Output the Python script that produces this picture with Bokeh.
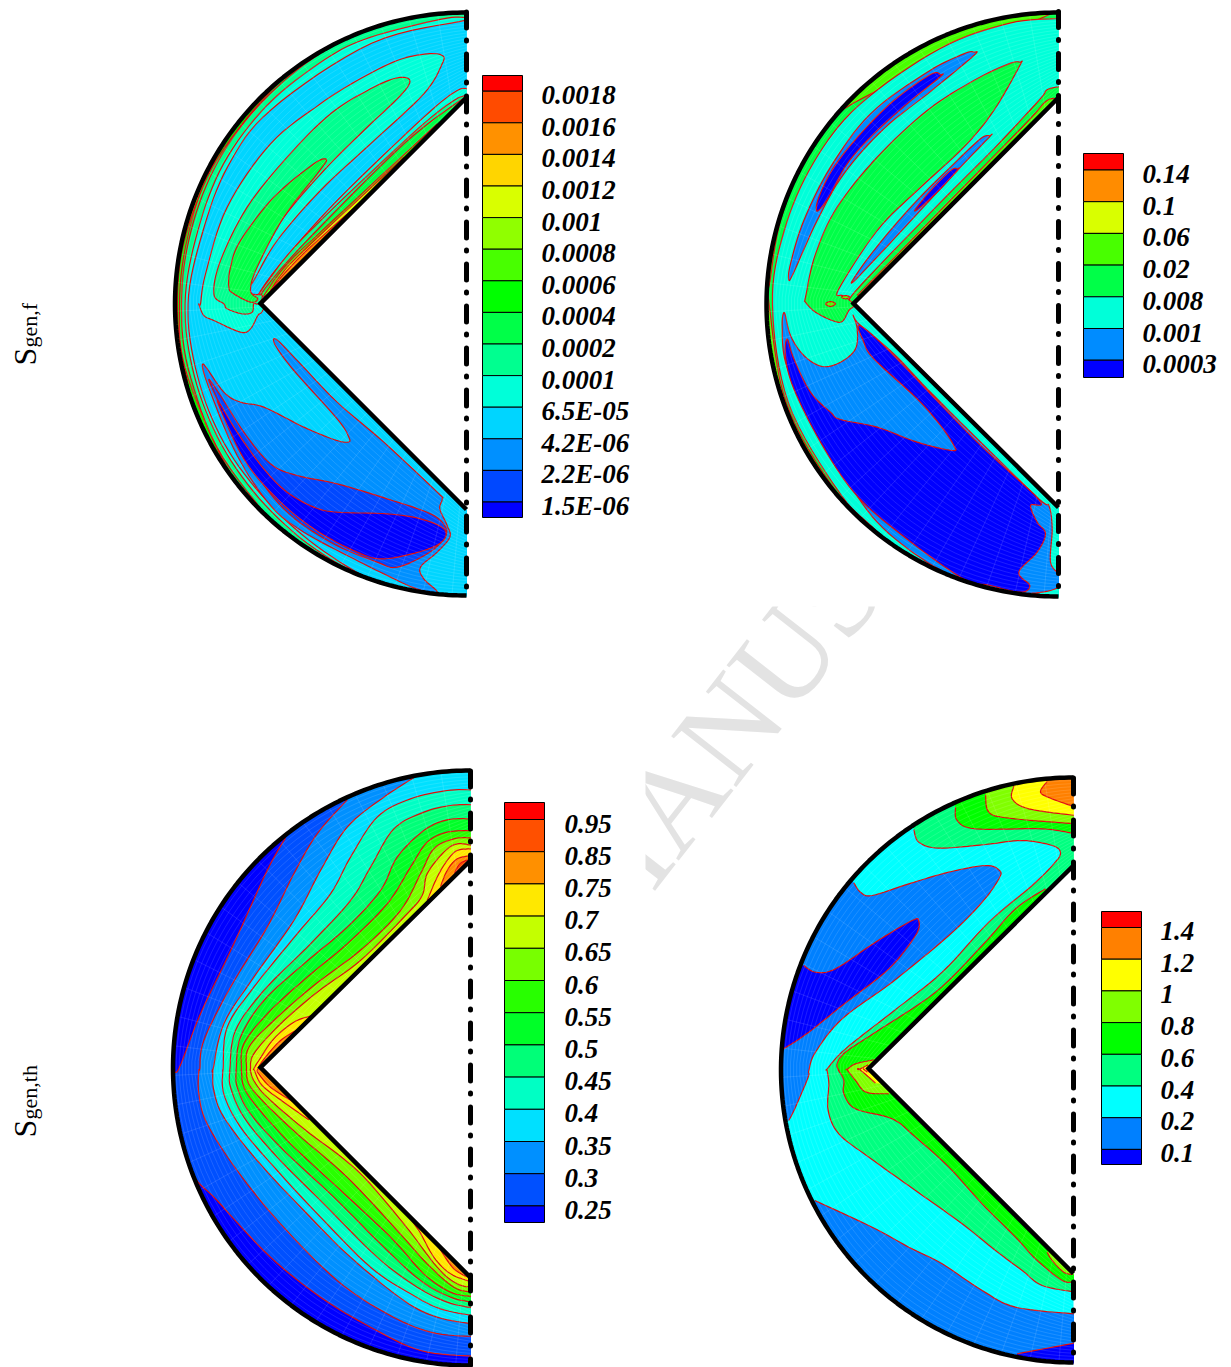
import numpy as np
from bokeh.plotting import figure
from bokeh.models import Range1d
from bokeh.core.properties import value
from bokeh.embed import file_html
from bokeh.resources import INLINE

# ---------- colour-bar data ----------
LEVELS_F = ["0.0018","0.0016","0.0014","0.0012","0.001","0.0008","0.0006","0.0004","0.0002","0.0001","6.5E-05","4.2E-06","2.2E-06","1.5E-06"]
COLORS_F = ["#ff0000","#ff4b00","#ff9100","#ffd500","#d9ff00","#90ff00","#48ff00","#00ff00","#00ff48","#00ff90","#00ffd9","#00d5ff","#0090ff","#0048ff","#0000ff"]
LEVELS_V = ["0.14","0.1","0.06","0.02","0.008","0.001","0.0003"]
COLORS_V = ["#ff0000","#ff8c00","#d9ff00","#48ff00","#00ff48","#00ffd9","#008cff","#0000ff"]
LEVELS_T = ["0.95","0.85","0.75","0.7","0.65","0.6","0.55","0.5","0.45","0.4","0.35","0.3","0.25"]
COLORS_T = ["#ff0000","#ff5000","#ff9000","#ffe800","#c4ff00","#78ff00","#28ff00","#00ff28","#00ff78","#00ffc4","#00e0ff","#0090ff","#0050ff","#0000ff"]
LEVELS_B = ["1.4","1.2","1","0.8","0.6","0.4","0.2","0.1"]
COLORS_B = ["#ff0000","#ff8000","#ffff00","#80ff00","#00ff00","#00ff80","#00ffff","#0080ff","#0000ff"]

# ---------- contour outlines (3x crop coordinates) ----------
def low(pts, off):
    return [(x, y + off) for x, y in pts]

PANEL_F = dict(ax=466, top=12, bot=595, apex=(260, 303), wt=97, wb=509, org=(170, 0), base="#90ff00", start=11.5)
PANEL_V = dict(ax=1058, top=12, bot=596, apex=(853, 303), wt=97, wb=507, org=(760, 0), base="#48ff00", start=11)
PANEL_T = dict(ax=470, top=770, bot=1365, apex=(260, 1067), wt=860, wb=1277, org=(170, 760), base="#0000ff", start=770.5)
PANEL_B = dict(ax=1073, top=777, bot=1362, apex=(868, 1068), wt=865, wb=1273, org=(775, 765), base="#00ffff", start=777.5)

# --- Sgen,f ---
RIM_F = [
 ("#00ff00", [(0,-3),(40,-3),(55,0),(75,2.5),(90,2.5),(105,2),(125,-3),(180,-3)]),
 ("#00ff48", [(0,-3),(25,-3),(40,1),(60,3),(75,4.5),(90,4.5),(105,3.5),(130,-1),(150,-3),(180,-3)]),
 ("#00ff90", [(0,-3),(15,-1),(30,1.5),(45,4),(60,5),(75,6.5),(90,6.5),(105,6),(125,3.5),(150,-2),(180,-3)]),
 ("#00ffd9", [(0,5),(5,5.5),(20,8),(30,9),(45,10),(60,11),(75,13),(90,10),(105,10),(120,9),(135,7),(150,3),(165,-2),(180,-3)]),
 ("#00d5ff", [(0,7.7),(20,14),(45,16),(60,16),(75,18),(90,13),(105,13),(120,12),(135,11),(150,6),(165,-2),(180,-3)]),
]
WEDGE_CLOSE_F = [(300,915),(900,500)]
BANDS_F = [
 ("#00ffd9", [(900,268),(860,270),(760,350),(500,600),(330,790),(265,880),(258,900)]),
 ("#00ff90", [(900,285),(850,300),(720,405),(400,710),(290,845),(265,885)]),
 ("#00ff48", [(890,285),(700,430),(400,730),(290,855),(270,890)]),
 ("#48ff00", [(800,370),(450,695),(350,790),(290,870),(275,900)]),
 ("#d9ff00", [(700,470),(400,750),(330,825),(295,880)]),
 ("#ff8c00", [(610,570),(430,730),(350,810),(300,870)]),
]
ISLAND_F1 = [(815,165),(770,160),(680,180),(560,240),(450,310),(300,430),(170,620),(105,820),(90,910)] + \
            low([(85,25),(100,60),(130,75),(210,110),(240,100),(262,60),(275,48)],885) + \
            [(290,895),(258,885),(240,880),(232,865),(250,840),(320,720),(450,570),(600,430),(760,280),(815,190)]
ISLAND_F2 = [(718,240),(680,232),(600,265),(480,340),(350,470),(230,620),(150,780),(130,880)] + \
            low([(160,25),(170,40),(215,55),(245,50),(250,25),(265,25)],885) + \
            [(275,885),(245,880),(235,860),(270,770),(340,650),(460,510),(580,390),(690,285)]
ISLAND_F3 = [(468,478),(430,490),(310,590),(210,720),(180,800),(175,860),(190,880),(240,905),(262,895),(240,870),(260,800),(340,650),(440,520)]
BLUE_F1 = low([(97,205),(160,290),(210,320),(280,335),(400,395),(490,432),(532,440),(535,425),(500,370),(370,225),(315,150),(318,132),(385,200),(500,320),(640,440),(800,590),(815,610),(808,640),(830,690),(838,725),(800,770),(750,815),(760,850),(800,890),(738,880),(650,840),(550,790),(400,710),(300,630),(200,480),(120,290)],885)
BLUE_F2 = low([(118,262),(150,300),(220,410),(300,505),(380,540),(500,565),(650,610),(780,655),(825,695),(820,730),(770,775),(680,815),(620,800),(480,740),(340,640),(230,490)],885)
BLUE_F3 = low([(140,315),(200,410),(280,520),(350,590),(430,635),(500,650),(650,655),(750,670),(820,700),(818,735),(760,765),(640,790),(560,770),(430,700),(320,610),(220,490)],885)

# --- second panel ---
RIM_V = [
 ("#00ff48", [(0,-2),(50,-2),(70,1.5),(85,2.7),(90,2.7),(110,2.5),(130,1.5),(145,-2),(180,-2)]),
 ("#00ffd9", [(0,6),(10,6.5),(25,10),(45,10),(60,9),(75,8),(90,6),(110,4.5),(130,3.5),(140,2),(150,-1),(180,-3)]),
]
BANDS_V = [
 ("#00ff48", [(900,258),(860,268),(835,300),(700,445),(560,585),(300,855),(265,905)]),
 ("#48ff00", [(900,298),(860,300),(790,375),(500,670),(290,885)]),
 ("#d9ff00", [(770,410),(500,680),(330,850)]),
]
GREEN_V = [(778,185),(745,190),(640,240),(500,330),(350,470),(230,620),(165,760),(135,890)] + \
          low([(135,20),(165,50),(215,75),(245,78),(265,45),(280,30)],885) + \
          [(262,895),(245,885),(235,865),(350,690),(470,570),(610,440),(700,330),(778,195)]
SPOT_V1 = low([(195,25),(210,18),(225,25),(210,33)],885)
SPOT_V2 = low([(243,5),(255,0),(268,5),(255,10)],885)
SLIVER_V1 = [(640,155),(610,160),(500,215),(330,340),(210,500),(130,660),(90,790),(85,838),(100,815),(170,660),(250,520),(370,385),(520,265),(640,165)]
DARK_V1 = [(540,222),(510,222),(400,300),(300,400),(220,500),(175,590),(170,632),(205,590),(260,490),(340,400),(440,310),(540,228)]
SLIVER_V2 = [(688,405),(660,415),(580,490),(460,610),(340,750),(272,848),(340,780),(470,640),(600,500),(688,408)]
DARK_V2 = [(590,505),(570,510),(510,570),(462,632),(520,585),(590,510)]
BLUE_V = low([(72,52),(65,90),(75,200),(130,320),(240,520),(350,680),(500,800),(640,870),(700,885),(815,893),(895,875),(897,840),(870,800),(875,700),(865,630),(835,610),(640,420),(500,280),(400,175),(295,85),(278,58),(290,100),(285,160),(240,200),(185,213),(130,180),(90,120)],885)
DARK_V = low([(80,130),(100,190),(150,290),(210,350),(240,372),(350,395),(470,440),(575,465),(580,450),(540,390),(470,310),(340,190),(310,140),(298,90),(400,180),(640,430),(835,612),(810,630),(830,680),(855,715),(830,770),(775,830),(808,870),(780,890),(690,870),(600,845),(400,700),(280,590),(180,440),(100,280),(75,185)],885)

# --- Sgen,th ---
CONT_T = [
 ("#0050ff", [(345,232),(290,330),(190,550),(90,760),(25,925)] + low([(8,30),(8,100),(60,325),(140,420),(300,590),(450,710),(600,800),(750,870),(905,887)],900)),
 ("#0090ff", [(530,118),(440,220),(370,340),(290,500),(180,680),(100,840),(88,925)] + low([(85,30),(85,100),(110,190),(200,330),(330,490),(500,660),(650,760),(780,815),(905,828)],900)),
 ("#00e0ff", [(745,42),(640,110),(530,200),(450,330),(370,480),(250,650),(160,790),(128,925)] + low([(127,30),(130,90),(160,170),(260,300),(400,450),(540,590),(700,720),(800,770),(905,790)],900)),
 ("#00ffc4", [(905,88),(830,90),(720,115),(620,170),(540,290),(480,400),(380,520),(250,680),(170,800),(158,925)] + low([(157,30),(160,100),(210,200),(320,330),(450,470),(600,620),(720,700),(810,745),(905,765)],900)),
 ("#00ff78", [(905,132),(840,135),(760,155),(670,205),(600,320),(540,420),(420,550),(280,690),(195,810),(178,925)] + low([(178,30),(180,80),(220,170),(320,290),(460,430),(620,590),(740,680),(830,725),(905,742)],900)),
 ("#00ff28", [(905,175),(830,178),(760,210),(680,290),(630,390),(530,500),(400,610),(280,720),(210,830),(197,925)] + low([(197,30),(200,80),(240,160),(340,270),(490,410),(640,560),(750,660),(840,710),(905,725)],900)),
 ("#28ff00", [(905,210),(830,215),(770,245),(720,320),(650,430),(530,550),(410,650),(295,755),(220,850),(213,925)] + low([(213,30),(220,80),(260,140),(360,250),(500,380),(660,530),(760,640),(840,695),(905,708)],900)),
 ("#78ff00", [(905,232),(850,235),(790,265),(750,340),(690,450),(575,565),(430,675),(310,780),(235,860),(228,925)] + low([(228,30),(235,70),(280,125),(380,220),(530,350),(680,510),(770,610),(850,680),(905,695)],900)),
 ("#c4ff00", [(905,255),(860,250),(820,275),(770,340),(755,405),(705,465),(570,600),(440,695),(325,795),(250,880),(240,925)] + low([(240,30),(250,60),(290,110),(400,205),(560,330),(700,490),(800,620),(860,670),(905,680)],900)),
]
PATCH_T = [
 ("#ffe800", [(905,265),(860,270),(830,300),(800,350),(770,420)]),
 ("#ffe800", [(425,765),(370,785),(310,835),(265,900),(250,925)] + low([(252,30),(275,75),(340,125),(415,178)],900)),
 ("#ffe800", low([(700,450),(745,510),(790,590),(840,640),(905,665)],900)),
 ("#ff9000", [(905,285),(860,295),(830,330),(810,378)]),
 ("#ff9000", [(385,805),(330,840),(285,890),(262,925)] + low([(265,40),(300,80),(365,122)],900)),
 ("#ff9000", low([(800,552),(850,625),(905,655)],900)),
 ("#ff5000", [(905,295),(870,308),(852,338)]),
]

# --- fourth panel ---
BLUE_B1 = [(235,352),(255,380),(290,390),(400,355),(520,320),(630,300),(672,315),(670,340),(620,410),(520,510),(350,650),(200,760),(120,860),(100,915),(98,935),(60,1025),(40,1065)]
DARK_B1 = [(85,600),(120,620),(180,610),(300,530),(410,465),(430,468),(420,510),(340,610),(200,720),(100,800),(25,850)]
BLUE_B2 = low([(118,420),(290,500),(400,560),(500,610),(620,690),(720,740),(895,760)],885)
DARK_B2 = low([(725,880),(895,848)],885)
GREEN_B1 = [(415,192),(430,230),(490,248),(630,237),(740,225),(830,240),(855,262),(835,295),(770,360),(640,470),(500,620),(350,740),(210,850),(155,910)] + \
           low([(155,30),(160,70),(158,150),(190,220),(280,290),(420,390),(560,490),(660,570),(740,630),(800,675),(900,695)],885)
GREEN_B2 = [(540,125),(545,165),(600,190),(800,190),(900,205)]
GREEN_B3 = [(810,370),(720,430),(620,540),(480,680),(300,800),(210,860),(185,895),(190,915)] + \
           low([(188,28),(205,60),(205,100),(240,145),(350,175),(420,230),(520,320),(620,430),(720,530),(780,595),(860,660),(900,662)],885)
LIME_B1 = [(630,88),(640,140),(700,158),(900,175)]
LIME_B2 = low([(815,575),(830,600),(865,635),(892,642)],885)
LIME_B3 = [(295,883),(240,895),(215,912)] + low([(215,28),(240,60),(272,95),(340,100)],885)
YEL_B1 = [(715,62),(710,100),(760,130),(900,150)]
YEL_B2 = [(278,898),(250,912)] + low([(250,25),(280,50),(300,68)],885)
ORG_B1 = [(815,48),(795,80),(830,100),(900,125)]
ORG_B2 = low([(262,24),(275,35)],885)

# ---------- layout helpers ----------
def smooth(pts, closed=False, n=8):
    P = np.array(pts, float)
    if closed:
        Q = np.vstack([P[-1], P, P[0], P[1]])
    else:
        Q = np.vstack([P[0], P, P[-1]])
    out = []
    for i in range(1, len(Q) - 2):
        p0, p1, p2, p3 = Q[i-1], Q[i], Q[i+1], Q[i+2]
        for t in np.linspace(0, 1, n, endpoint=False):
            out.append(0.5*((2*p1) + (-p0+p2)*t + (2*p0-5*p1+4*p2-p3)*t*t + (-p0+3*p1-3*p2+p3)*t**3))
    if not closed:
        out.append(P[-1])
    return np.array(out)

W, H = 1223, 1367
p = figure(width=W, height=H, x_range=Range1d(0, W), y_range=Range1d(H, 0),
           output_backend="svg", toolbar_location=None, min_border=0,
           x_axis_location=None, y_axis_location=None)
p.outline_line_color = None
p.grid.visible = False

RED = "#e00c0c"

def geom(pn):
    cy = (pn["top"] + pn["bot"]) / 2
    R = (pn["bot"] - pn["top"]) / 2
    return pn["ax"], cy, R

def rim_curve(pn, pairs):
    cx, cy, R = geom(pn)
    pts = []
    for a, d in pairs:
        r = R - d
        t = np.radians(a)
        pts.append((cx - r*np.sin(t), cy - r*np.cos(t)))
    return pts

def to_px(pn, pts):
    ox, oy = pn["org"]
    return [(ox + x/3, oy + y/3) for x, y in pts]

def fill_and_line(color, curve_px, closure_px=None, closed=False):
    c = smooth(curve_px, closed=closed)
    poly = c if closure_px is None else np.vstack([c, np.array(closure_px, float)])
    p.patch(poly[:,0], poly[:,1], fill_color=color, line_color=None)
    xs = np.append(c[:,0], c[0,0]) if closed else c[:,0]
    ys = np.append(c[:,1], c[0,1]) if closed else c[:,1]
    p.line(xs, ys, line_color=RED, line_width=1.2)

def island(pn, color, pts):
    fill_and_line(color, to_px(pn, pts), closed=True)

def open_layer(pn, color, pts, closure):
    fill_and_line(color, to_px(pn, pts), to_px(pn, closure))

def rim_layer(pn, color, pairs):
    cx, cy, R = geom(pn)
    fill_and_line(color, rim_curve(pn, pairs), [(cx+8, cy+R+8), (cx+8, cy-R-8)])

def domain_base(pn):
    cx, cy, R = geom(pn)
    t = np.radians(np.linspace(0, 180, 200))
    p.patch(cx - (R+1)*np.sin(t), cy - (R+1)*np.cos(t), fill_color=pn["base"], line_color=None)

def finish(pn):
    cx, cy, R = geom(pn)
    ax, (ex, ey), wt, wb = pn["ax"], pn["apex"], pn["wt"], pn["wb"]
    t = np.radians(np.linspace(0, 180, 200))
    # faint computational mesh
    a64 = np.radians(np.linspace(0, 180, 64))
    xo, yo = cx - R*np.sin(a64), cy - R*np.cos(a64)
    s = np.linspace(0, 1, 64)
    xi = np.where(s < .5, ax + (ex-ax)*s*2, ex + (ax-ex)*(s-.5)*2)
    yi = np.where(s < .5, wt + (ey-wt)*s*2, ey + (wb-ey)*(s-.5)*2)
    f = np.linspace(0, 1, 30)
    mx = [[xo[i], xi[i]] for i in range(0, 64, 2)]
    my = [[yo[i], yi[i]] for i in range(0, 64, 2)]
    for v in f:
        mx.append(list(xo + (xi-xo)*v)); my.append(list(yo + (yi-yo)*v))
    p.multi_line(mx, my, line_color="white", line_alpha=0.17, line_width=0.7)
    # white outside the domain
    m = 9
    ox = np.concatenate([cx-(R+1)*np.sin(t), [cx+14, cx-R-m, cx-R-m, cx+14]])
    oy = np.concatenate([cy-(R+1)*np.cos(t), [cy+R+m, cy+R+m, cy-R-m, cy-R-m]])
    p.patch(ox, oy, fill_color="white", line_color=None)
    p.patch([ax+2, ex, ax+2], [wt-2, ey, wb+2], fill_color="white", line_color=None)
    p.quad(left=[ax+0.5], right=[ax+14], top=[cy-R-m], bottom=[cy+R+m], fill_color="white", line_color=None)
    # black walls
    p.line(cx-R*np.sin(t), cy-R*np.cos(t), line_color="black", line_width=4.5)
    p.line([ax, ex, ax], [wt, ey, wb], line_color="black", line_width=4.5, line_join="miter")
    # symmetry axis, dash-dot
    p.line([ax, ax], [pn["start"], pn["bot"]], line_color="black", line_width=5,
           line_dash="16 12 1 13", line_cap="round")

def colorbar(levels, colors, left, top, first, step, bottom, label_x, label_dy=4):
    edges = [top] + [first + i*step for i in range(len(levels))] + [bottom]
    p.quad(left=[left]*len(colors), right=[left+40]*len(colors), top=edges[:-1], bottom=edges[1:],
           fill_color=colors, line_color="black", line_width=1)
    ys = [first + i*step + label_dy for i in range(len(levels))]
    p.text(x=[label_x]*len(levels), y=ys, text=levels, text_font=value("Liberation Serif"),
           text_font_style="bold italic", text_font_size="27px", text_baseline="middle",
           text_align="left", text_color="black")

# ---------- watermark (behind everything) ----------
p.text(x=[575], y=[923], text=["MANUS"], angle=np.radians(52), text_font=value("Liberation Serif"),
       text_font_size="126px", text_color="#e3e3e3", text_baseline="alphabetic", text_align="left")
p.quad(left=[540], right=[1040], top=[500], bottom=[606], fill_color="white", line_color=None)
p.quad(left=[500], right=[645], top=[600], bottom=[1010], fill_color="white", line_color=None)
p.quad(left=[875], right=[1040], top=[600], bottom=[760], fill_color="white", line_color=None)

# ---------- panel: Sgen,f ----------
pn = PANEL_F
domain_base(pn)
for c, pairs in RIM_F:
    rim_layer(pn, c, pairs)
for c, pts in BANDS_F:
    open_layer(pn, c, pts, WEDGE_CLOSE_F)
island(pn, "#00ffd9", ISLAND_F1)
island(pn, "#00ff90", ISLAND_F2)
island(pn, "#00ff48", ISLAND_F3)
island(pn, "#0090ff", BLUE_F1)
island(pn, "#0048ff", BLUE_F2)
island(pn, "#0000ff", BLUE_F3)
finish(pn)

# ---------- second panel ----------
pn = PANEL_V
domain_base(pn)
for c, pairs in RIM_V:
    rim_layer(pn, c, pairs)
for c, pts in BANDS_V:
    open_layer(pn, c, pts, [(320,915),(905,500)])
island(pn, "#00ff48", GREEN_V)
island(pn, "#48ff00", SPOT_V1)
island(pn, "#48ff00", SPOT_V2)
island(pn, "#008cff", SLIVER_V1)
island(pn, "#0000ff", DARK_V1)
island(pn, "#008cff", SLIVER_V2)
island(pn, "#0000ff", DARK_V2)
island(pn, "#008cff", BLUE_V)
island(pn, "#0000ff", DARK_V)
finish(pn)

# ---------- panel: Sgen,th ----------
pn = PANEL_T
domain_base(pn)
for c, pts in CONT_T:
    if pts[0][0] >= 900:
        clo = [(915, pts[-1][1]), (915, pts[0][1])]
    else:
        clo = [(915, pts[-1][1]), (915, 10), (pts[0][0], 10)]
    open_layer(pn, c, pts, clo)
for c, pts in PATCH_T:
    open_layer(pn, c, pts, [(915, pts[-1][1]), (915, pts[0][1])] if pts[0][0] >= 900 else [(700, 920)])
finish(pn)

# ---------- fourth panel ----------
pn = PANEL_B
domain_base(pn)
open_layer(pn, "#0080ff", BLUE_B1, [(0,1065),(0,300),(200,300)])
open_layer(pn, "#0000ff", DARK_B1, [(0,850),(0,600)])
open_layer(pn, "#0080ff", BLUE_B2, [(915,1645),(915,1815),(0,1815),(0,1305)])
open_layer(pn, "#0000ff", DARK_B2, [(915,1733),(915,1810),(700,1810)])
open_layer(pn, "#00ff80", GREEN_B1, [(915,1580),(915,15),(400,15),(400,150)])
open_layer(pn, "#00ff00", GREEN_B2, [(915,205),(915,15),(500,15)])
open_layer(pn, "#00ff00", GREEN_B3, [(915,1547),(915,500),(830,370)])
open_layer(pn, "#80ff00", LIME_B1, [(915,175),(915,15),(630,15)])
open_layer(pn, "#80ff00", LIME_B2, [(915,1527),(900,1300)])
open_layer(pn, "#80ff00", LIME_B3, [(500,950),(320,880)])
open_layer(pn, "#ffff00", YEL_B1, [(915,150),(915,15),(715,15)])
open_layer(pn, "#ffff00", YEL_B2, [(400,960),(300,880)])
open_layer(pn, "#ff8000", ORG_B1, [(915,125),(915,15),(815,15)])
open_layer(pn, "#ff8000", ORG_B2, [(320,930)])
finish(pn)

# ---------- colour bars ----------
colorbar(LEVELS_F, COLORS_F, 482, 75, 90.7, 31.6, 517, 541)
colorbar(LEVELS_V, COLORS_V, 1083, 153, 169.5, 31.7, 377, 1142)
colorbar(LEVELS_T, COLORS_T, 504, 802, 819, 32.2, 1222, 564)
colorbar(LEVELS_B, COLORS_B, 1101, 911, 927, 31.7, 1164, 1160, label_dy=3.5)

# ---------- side titles ----------
SIDE_MAIN = ["S", "S"]
SIDE_SUB = ["gen,f", "gen,th"]
p.text(x=[24, 24], y=[365, 1137], text=SIDE_MAIN, angle=np.pi/2, text_font=value("Liberation Serif"),
       text_font_size="32px", text_baseline="alphabetic", text_align="left", text_color="black")
p.text(x=[29, 29], y=[347, 1119], text=SIDE_SUB, angle=np.pi/2, text_font=value("Liberation Serif"),
       text_font_size="22px", text_baseline="alphabetic", text_align="left", text_color="black")

open("out.html", "w").write(file_html(p, INLINE))
